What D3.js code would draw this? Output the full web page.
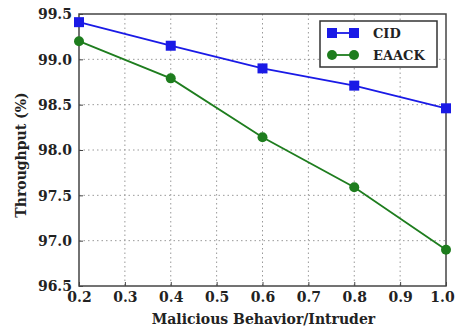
<!DOCTYPE html>
<html>
<head>
<meta charset="utf-8">
<script src="https://cdn.jsdelivr.net/npm/d3@7"></script>
<style>
body { margin: 0; background: #fff; }
text { font-family: "DejaVu Serif", serif; font-weight: bold; fill: #222; }
</style>
</head>
<body>
<svg id="chart" width="456" height="330"></svg>
<script>
const xs = [0.2, 0.4, 0.6, 0.8, 1.0];
const cid = [99.41, 99.15, 98.9, 98.71, 98.46];
const eaack = [99.2, 98.79, 98.14, 97.59, 96.9];
const xTicks = [0.2, 0.3, 0.4, 0.5, 0.6, 0.7, 0.8, 0.9, 1.0];
const yTicks = [96.5, 97.0, 97.5, 98.0, 98.5, 99.0, 99.5];

const svg = d3.select("#chart");
const mLeft = 79, mRight = 446, mTop = 14, mBottom = 286;

const x = d3.scaleLinear().domain([0.2, 1.0]).range([mLeft, mRight]);
const y = d3.scaleLinear().domain([96.5, 99.5]).range([mBottom, mTop]);

// grid
svg.append("g").selectAll("line").data(xTicks.slice(1, -1)).enter().append("line")
  .attr("x1", d => x(d)).attr("x2", d => x(d)).attr("y1", mTop).attr("y2", mBottom)
  .attr("stroke", "#999").attr("stroke-dasharray", "1.5,3");
svg.append("g").selectAll("line").data(yTicks.slice(1, -1)).enter().append("line")
  .attr("x1", mLeft).attr("x2", mRight).attr("y1", d => y(d)).attr("y2", d => y(d))
  .attr("stroke", "#999").attr("stroke-dasharray", "1.5,3");

// axes
const xAxis = svg.append("g").attr("transform", `translate(0,${mBottom})`)
  .call(d3.axisBottom(x).tickValues(xTicks).tickFormat(d3.format(".1f")).tickSizeInner(-4).tickSizeOuter(0).tickPadding(5));
const yAxis = svg.append("g").attr("transform", `translate(${mLeft},0)`)
  .call(d3.axisLeft(y).tickValues(yTicks).tickFormat(d3.format(".1f")).tickSizeInner(-4).tickSizeOuter(0).tickPadding(7));
[xAxis, yAxis].forEach(a => {
  a.select(".domain").remove();
  a.selectAll("line").attr("stroke", "#444");
  a.selectAll("text").style("font-size", "14px").attr("fill", "#2a2a2a");
});
xAxis.selectAll("text").attr("dy", "0.8em");
// keep the last label inside the window
xAxis.selectAll("text").filter(d => d === 1.0).attr("dx", "-4");
yAxis.selectAll("text").attr("dy", "0.35em");

svg.append("rect").attr("x", mLeft).attr("y", mTop).attr("width", mRight - mLeft).attr("height", mBottom - mTop)
  .attr("fill", "none").attr("stroke", "#444").attr("stroke-width", 1.5);

// series
const line = d3.line().x((d, i) => x(xs[i])).y(d => y(d));
svg.append("path").datum(cid).attr("d", line).attr("fill", "none").attr("stroke", "#1a1ae6").attr("stroke-width", 1.8);
svg.append("path").datum(eaack).attr("d", line).attr("fill", "none").attr("stroke", "#1e7d1e").attr("stroke-width", 1.8);

svg.append("g").selectAll("rect").data(cid).enter().append("rect")
  .attr("x", (d, i) => x(xs[i]) - 5).attr("y", d => y(d) - 5).attr("width", 10).attr("height", 10)
  .attr("fill", "#1a1ae6");
svg.append("g").selectAll("circle").data(eaack).enter().append("circle")
  .attr("cx", (d, i) => x(xs[i])).attr("cy", d => y(d)).attr("r", 5)
  .attr("fill", "#1e7d1e");

// legend
const lg = svg.append("g");
lg.append("rect").attr("x", 320).attr("y", 21).attr("width", 117).attr("height", 46)
  .attr("fill", "#fff").attr("stroke", "#333").attr("stroke-width", 1.5);
const items = [["CID", "#1a1ae6", "sq"], ["EAACK", "#1e7d1e", "ci"]];
items.forEach((it, i) => {
  const yy = 33 + i * 22;
  lg.append("line").attr("x1", 332).attr("x2", 354).attr("y1", yy).attr("y2", yy)
    .attr("stroke", it[1]).attr("stroke-width", 1.8);
  [332, 354].forEach(cx => {
    if (it[2] === "sq") lg.append("rect").attr("x", cx - 5).attr("y", yy - 5).attr("width", 10).attr("height", 10).attr("fill", it[1]);
    else lg.append("circle").attr("cx", cx).attr("cy", yy).attr("r", 5).attr("fill", it[1]);
  });
  lg.append("text").attr("x", 373).attr("y", yy).attr("dy", "0.35em").style("font-size", "13px").text(it[0]);
});

// labels
svg.append("text").attr("x", (mLeft + mRight) / 2 + 1).attr("y", 324).attr("text-anchor", "middle")
  .style("font-size", "14px").text("Malicious Behavior/Intruder");
svg.append("text").attr("transform", `translate(26,${(mTop + mBottom) / 2 + 5}) rotate(-90)`)
  .attr("text-anchor", "middle").style("font-size", "14px").text("Throughput (%)");
</script>
</body>
</html>
